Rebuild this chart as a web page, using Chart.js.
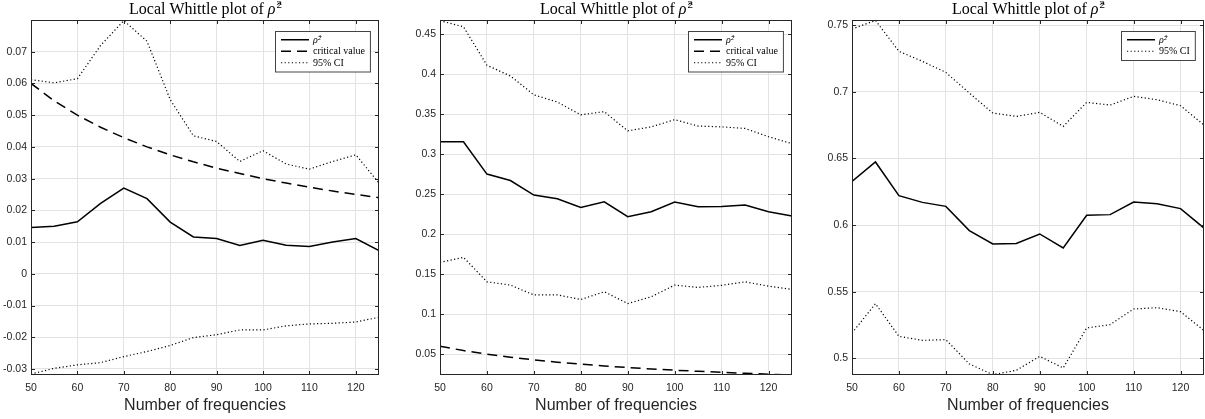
<!DOCTYPE html>
<html>
<head>
<meta charset="utf-8">
<script src="https://cdn.jsdelivr.net/npm/chart.js@4.4.0/dist/chart.umd.min.js"></script>
<style>
  html, body { margin: 0; padding: 0; background: #fff; }
  #wrap { position: relative; width: 1205px; height: 419px; overflow: hidden; }
  canvas { position: absolute; top: 0; }
</style>
</head>
<body>
<div id="wrap">
  <canvas id="c1" width="400" height="419" style="left:0"></canvas>
  <canvas id="c2" width="400" height="419" style="left:400px"></canvas>
  <canvas id="c3" width="405" height="419" style="left:800px"></canvas>
</div>
<script>
// x values (number of frequencies) and tick labels
const freqs = [50, 55, 60, 65, 70, 75, 80, 85, 90, 95, 100, 105, 110, 115, 120, 125];
const xTicks = [50, 60, 70, 80, 90, 100, 110, 120];

// critical value (same in panels 1 and 2)
const critValue = [0.0600, 0.0545, 0.0500, 0.0462, 0.0429, 0.0400, 0.0375, 0.0353, 0.0333, 0.0316, 0.0300, 0.0286, 0.0273, 0.0261, 0.0250, 0.0240];

// panel 1
const rho1   = [0.0146, 0.0150, 0.0164, 0.0222, 0.0270, 0.0237, 0.0163, 0.0116, 0.0111, 0.0089, 0.0106, 0.0090, 0.0086, 0.0100, 0.0111, 0.0073];
const upper1 = [0.0612, 0.0602, 0.0615, 0.0720, 0.0798, 0.0733, 0.0549, 0.0435, 0.0417, 0.0354, 0.0388, 0.0346, 0.0330, 0.0354, 0.0375, 0.0286];
const lower1 = [-0.0316, -0.0298, -0.0287, -0.0280, -0.0261, -0.0245, -0.0226, -0.0201, -0.0192, -0.0177, -0.0177, -0.0164, -0.0158, -0.0156, -0.0152, -0.0137];
const yTicks1 = [-0.03, -0.02, -0.01, 0, 0.01, 0.02, 0.03, 0.04, 0.05, 0.06, 0.07];
const yRange1 = [-0.0319, 0.0800];

// panel 2
const rho2   = [0.3154, 0.3154, 0.2750, 0.2670, 0.2488, 0.2442, 0.2333, 0.2404, 0.2217, 0.2280, 0.2400, 0.2342, 0.2346, 0.2363, 0.2280, 0.2225];
const upper2 = [0.4667, 0.4590, 0.4110, 0.3975, 0.3740, 0.3650, 0.3490, 0.3530, 0.3290, 0.3340, 0.3430, 0.3350, 0.3340, 0.3320, 0.3217, 0.3130];
const lower2 = [0.1646, 0.1710, 0.1404, 0.1363, 0.1240, 0.1240, 0.1184, 0.1280, 0.1133, 0.1217, 0.1363, 0.1334, 0.1360, 0.1404, 0.1350, 0.1309];
const yTicks2 = [0.05, 0.1, 0.15, 0.2, 0.25, 0.3, 0.35, 0.4, 0.45];
const yRange2 = [0.0240, 0.4675];

// panel 3
const rho3   = [0.6327, 0.6473, 0.6220, 0.6170, 0.6140, 0.5958, 0.5858, 0.5862, 0.5933, 0.5828, 0.6073, 0.6078, 0.6172, 0.6160, 0.6123, 0.5977];
const upper3 = [0.7470, 0.7535, 0.7303, 0.7228, 0.7145, 0.6990, 0.6840, 0.6815, 0.6845, 0.6740, 0.6920, 0.6900, 0.6965, 0.6940, 0.6895, 0.6750];
const lower3 = [0.5190, 0.5410, 0.5165, 0.5135, 0.5140, 0.4958, 0.4878, 0.4910, 0.5015, 0.4928, 0.5228, 0.5253, 0.5370, 0.5380, 0.5350, 0.5208];
const yTicks3 = [0.5, 0.55, 0.6, 0.65, 0.7, 0.75];
const yRange3 = [0.4875, 0.7538];

const AXIS_COLOR = '#262626';
const SANS = '"Liberation Sans", Arial, sans-serif';
const SERIF = '"Liberation Serif", "Times New Roman", serif';

function pts(vals) {
    return freqs.map((f, i) => ({ x: f, y: vals[i] }));
}

// MATLAB-like box, inward ticks, legend and title
const matlabAxes = {
    id: 'matlabAxes',
    afterDatasetsDraw(chart) {
        const { ctx, chartArea: a, scales: { x, y } } = chart;
        ctx.save();
        ctx.strokeStyle = AXIS_COLOR;
        ctx.lineWidth = 1;
        ctx.beginPath();
        x.ticks.forEach(t => {
            const px = Math.round(x.getPixelForValue(t.value)) + 0.5;
            ctx.moveTo(px, a.bottom); ctx.lineTo(px, a.bottom - 4);
            ctx.moveTo(px, a.top); ctx.lineTo(px, a.top + 4);
        });
        y.ticks.forEach(t => {
            const py = Math.round(y.getPixelForValue(t.value)) + 0.5;
            ctx.moveTo(a.left, py); ctx.lineTo(a.left + 4, py);
            ctx.moveTo(a.right, py); ctx.lineTo(a.right - 4, py);
        });
        ctx.stroke();
        ctx.strokeRect(a.left + 0.5, a.top + 0.5, a.right - a.left - 1, a.bottom - a.top - 1);

        // legend (top right inside the axes)
        const items = chart.data.datasets.filter(d => !d.hideInLegend);
        ctx.font = '10px ' + SERIF;
        const textW = Math.max(...items.map(d => ctx.measureText(d.label).width));
        const rowH = 11.5, pad = 3, lineLen = 28;
        const w = 6 + lineLen + 4 + textW + 5;
        const h = pad * 2 + rowH * items.length;
        const bx = Math.round(a.right - 9 - w), by = a.top + 11;
        ctx.fillStyle = '#fff';
        ctx.fillRect(bx, by, w, h);
        ctx.strokeStyle = '#444';
        ctx.strokeRect(bx + 0.5, by + 0.5, w, h);
        items.forEach((d, i) => {
            const cy = by + pad + rowH * (i + 0.5);
            ctx.strokeStyle = '#000';
            ctx.lineWidth = d.borderWidth;
            ctx.setLineDash(d.borderDash || []);
            ctx.beginPath();
            ctx.moveTo(bx + 6, cy); ctx.lineTo(bx + 6 + lineLen, cy);
            ctx.stroke();
            ctx.setLineDash([]);
            ctx.fillStyle = '#000';
            ctx.font = (d.italicLabel ? 'italic ' : '') + '10px ' + SERIF;
            ctx.textBaseline = 'middle';
            ctx.textAlign = 'left';
            ctx.fillText(d.label, bx + 6 + lineLen + 4, cy + 0.5);
        });

        // title
        const main = 'Local Whittle plot of ';
        ctx.fillStyle = '#000';
        ctx.textBaseline = 'alphabetic';
        ctx.font = '16px ' + SERIF;
        const w1 = ctx.measureText(main).width;
        ctx.font = 'italic 16px ' + SERIF;
        const w2 = ctx.measureText('\u03C1\u0302').width;
        ctx.font = '11px ' + SERIF;
        const w3 = ctx.measureText('2').width;
        let tx = (a.left + a.right) / 2 - (w1 + w2 + w3) / 2;
        ctx.font = '16px ' + SERIF;
        ctx.fillText(main, tx, 14);
        ctx.font = 'italic 16px ' + SERIF;
        ctx.fillText('\u03C1\u0302', tx + w1, 14);
        ctx.font = '11px ' + SERIF;
        ctx.fillText('2', tx + w1 + w2 + 1, 8);
        ctx.restore();
    }
};

function makePanel(id, cfg) {
    const datasets = [
        { label: '\u03C1\u0302\u00B2', italicLabel: true, data: pts(cfg.rho), borderColor: '#000', borderWidth: 1.5 },
    ];
    if (cfg.crit) {
        datasets.push({ label: 'critical value', data: pts(cfg.crit), borderColor: '#000', borderWidth: 1.5, borderDash: [10, 6] });
    }
    datasets.push({ label: '95% CI', data: pts(cfg.upper), borderColor: '#000', borderWidth: 1.2, borderDash: [1.2, 2.4] });
    datasets.push({ label: '95% CI lower', hideInLegend: true, data: pts(cfg.lower), borderColor: '#000', borderWidth: 1.2, borderDash: [1.2, 2.4] });

    return new Chart(document.getElementById(id), {
        type: 'line',
        data: { datasets: datasets },
        options: {
            responsive: false,
            animation: false,
            events: [],
            layout: { padding: { top: 20, left: 0, right: cfg.padRight, bottom: 0 } },
            elements: { point: { radius: 0 }, line: { tension: 0, fill: false } },
            plugins: { legend: { display: false }, tooltip: { enabled: false }, title: { display: false } },
            scales: {
                x: {
                    type: 'linear',
                    min: 50, max: 125,
                    afterBuildTicks: s => { s.ticks = xTicks.map(v => ({ value: v })); },
                    afterFit: s => { s.height = 44; },
                    grid: { color: '#e3e3e3', drawTicks: false },
                    border: { display: false },
                    ticks: { color: AXIS_COLOR, font: { family: SANS, size: 10.5 }, padding: 7, maxRotation: 0,
                             callback: v => String(v) },
                    title: { display: true, text: 'Number of frequencies', color: AXIS_COLOR,
                             font: { family: SANS, size: 16 }, padding: { top: 0, bottom: 4 } }
                },
                y: {
                    min: cfg.range[0], max: cfg.range[1],
                    afterBuildTicks: s => { s.ticks = cfg.yTicks.map(v => ({ value: v })); },
                    afterFit: s => { s.width = cfg.yWidth; },
                    grid: { color: '#e3e3e3', drawTicks: false },
                    border: { display: false },
                    ticks: { color: AXIS_COLOR, font: { family: SANS, size: 10.5 }, padding: 4,
                             callback: v => String(v) }
                }
            }
        },
        plugins: [matlabAxes]
    });
}

makePanel('c1', { rho: rho1, crit: critValue, upper: upper1, lower: lower1, yTicks: yTicks1, range: yRange1, yWidth: 31, padRight: 21 });
makePanel('c2', { rho: rho2, crit: critValue, upper: upper2, lower: lower2, yTicks: yTicks2, range: yRange2, yWidth: 40, padRight: 8 });
makePanel('c3', { rho: rho3, crit: null, upper: upper3, lower: lower3, yTicks: yTicks3, range: yRange3, yWidth: 52, padRight: 1 });
</script>
</body>
</html>
